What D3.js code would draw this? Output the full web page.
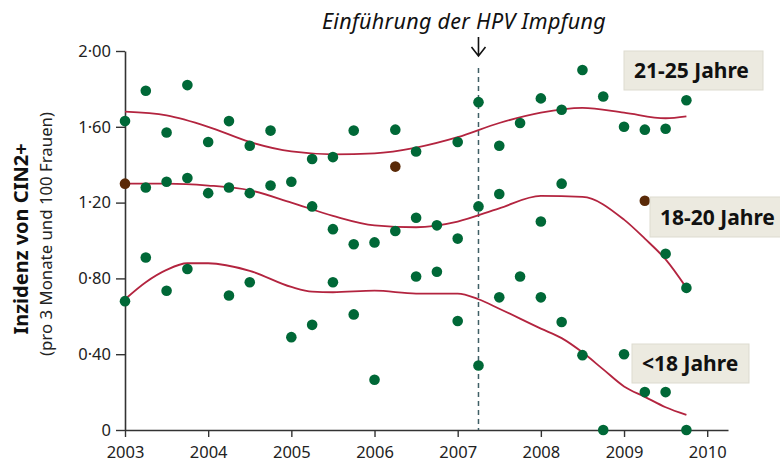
<!DOCTYPE html>
<html>
<head>
<meta charset="utf-8">
<script src="https://cdn.jsdelivr.net/npm/d3@7"></script>
<style>
  body { margin: 0; background: #fff; }
  svg { display: block; }
</style>
</head>
<body>
<script>
// quarters 2003.0 .. 2009.75
const quarters = d3.range(28).map((i) => 2003 + i * 0.25);
const years = [2003, 2004, 2005, 2006, 2007, 2008, 2009, 2010];
const yTicks = [0, 0.4, 0.8, 1.2, 1.6, 2.0];

// observed values per quarter (null = no green point)
const age2125 = [1.63, 1.79, 1.57, 1.82, 1.52, 1.63, 1.5, 1.58, null, 1.43, 1.44, 1.58, null, 1.585,
  1.47, null, 1.52, 1.73, 1.5, 1.62, 1.75, 1.69, 1.9, 1.76, 1.6, 1.585, 1.59, 1.74];
const age1820 = [null, 1.28, 1.31, 1.33, 1.25, 1.28, 1.25, 1.29, 1.31, 1.18, 1.06, 0.98, 0.99, 1.05,
  1.12, 1.08, 1.01, 1.18, 1.245, null, 1.1, 1.3, null, null, null, null, 0.93, 0.75];
const ageU18 = [0.68, 0.91, 0.735, 0.85, null, 0.71, 0.78, null, 0.49, 0.555, 0.78, 0.61, 0.265, null,
  0.81, 0.835, 0.575, 0.34, 0.7, 0.81, 0.7, 0.57, 0.395, 0, 0.4, 0.2, 0.2, 0];

// brown points [date, value]
const brownPoints = [[2003.0, 1.3], [2006.25, 1.39], [2009.25, 1.21]];

// fitted curves [date, value]
const fit2125 = [[2003, 1.68], [2003.5, 1.66], [2004, 1.6], [2004.5, 1.52], [2005, 1.47], [2005.5, 1.455],
  [2006, 1.46], [2006.5, 1.49], [2007, 1.545], [2007.5, 1.62], [2008, 1.675], [2008.5, 1.7],
  [2009, 1.675], [2009.5, 1.645], [2009.75, 1.655]];
const fit1820 = [[2003, 1.3], [2003.5, 1.3], [2004, 1.29], [2004.5, 1.265], [2005, 1.2], [2005.5, 1.13],
  [2006, 1.08], [2006.5, 1.07], [2007, 1.1], [2007.5, 1.17], [2008, 1.235], [2008.5, 1.23],
  [2009, 1.11], [2009.25, 1.01], [2009.5, 0.9], [2009.75, 0.75]];
const fitU18 = [[2003, 0.69], [2003.25, 0.78], [2003.5, 0.845], [2003.75, 0.88], [2004, 0.88],
  [2004.5, 0.84], [2005, 0.755], [2005.25, 0.73], [2005.5, 0.727], [2006, 0.735], [2006.5, 0.72],
  [2007, 0.72], [2007.25, 0.69], [2007.5, 0.64], [2008, 0.535], [2008.25, 0.485], [2008.5, 0.41],
  [2008.75, 0.32], [2009, 0.23], [2009.25, 0.175], [2009.5, 0.12], [2009.75, 0.08]];

const labels = ["21-25 Jahre", "18-20 Jahre", "<18 Jahre"];
const vaccineDate = 2007.25;

const width = 780;
const height = 464;
const font = "'Noto Sans', sans-serif";

const x = d3.scaleLinear().domain([2003, 2010.25]).range([125, 728]);
const y = d3.scaleLinear().domain([0, 2]).range([430, 51]);

const svg = d3.select("body").append("svg")
  .attr("width", width)
  .attr("height", height)
  .attr("viewBox", `0 0 ${width} ${height}`);

// axes
const fmt = (d) => (d === 0 ? "0" : d3.format(".2f")(d).replace(".", "\u00b7"));

const xAxis = svg.append("g")
  .attr("transform", `translate(0 ${y(0)})`)
  .call(d3.axisBottom(x).tickValues(years).tickFormat(d3.format("d")).tickSize(7).tickSizeOuter(0).tickPadding(9));

const yAxis = svg.append("g")
  .attr("transform", `translate(${x(2003)} 0)`)
  .call(d3.axisLeft(y).tickValues(yTicks).tickFormat(fmt).tickSize(9).tickSizeOuter(0).tickPadding(5));

[xAxis, yAxis].forEach((g) => {
  g.select(".domain").attr("stroke", "#333").attr("stroke-width", 1.6);
  g.selectAll(".tick line").attr("stroke", "#333").attr("stroke-width", 1.4);
  g.selectAll(".tick text")
    .attr("font-family", font)
    .attr("font-size", 16.5)
    .attr("fill", "#222");
});

// axis titles
svg.append("text")
  .attr("transform", `translate(28 ${239}) rotate(-90)`)
  .attr("text-anchor", "middle")
  .attr("font-family", font)
  .attr("font-weight", "bold")
  .attr("font-size", 20)
  .attr("fill", "#111")
  .text("Inzidenz von CIN2+");

svg.append("text")
  .attr("transform", `translate(52 ${234}) rotate(-90)`)
  .attr("text-anchor", "middle")
  .attr("font-family", font)
  .attr("font-size", 16.8)
  .attr("fill", "#222")
  .text("(pro 3 Monate und 100 Frauen)");

// vaccine line
svg.append("line")
  .attr("x1", x(vaccineDate)).attr("x2", x(vaccineDate))
  .attr("y1", 68).attr("y2", y(0))
  .attr("stroke", "#3f5f66")
  .attr("stroke-width", 1.5)
  .attr("stroke-dasharray", "5 4");

svg.append("path")
  .attr("d", `M${x(vaccineDate)},37 V56 M${x(vaccineDate) - 7},47 L${x(vaccineDate)},56 L${x(vaccineDate) + 7},47`)
  .attr("fill", "none")
  .attr("stroke", "#111")
  .attr("stroke-width", 1.6);

svg.append("text")
  .attr("x", 464)
  .attr("y", 29)
  .attr("text-anchor", "middle")
  .attr("font-family", font)
  .attr("font-style", "italic")
  .attr("font-size", 21.5)
  .attr("letter-spacing", 0.3)
  .attr("fill", "#111")
  .text("Einführung der HPV Impfung");

// fitted curves
const line = d3.line().x(([d]) => x(d)).y(([, v]) => y(v)).curve(d3.curveMonotoneX);
[fit2125, fit1820, fitU18].forEach((fit) => {
  svg.append("path")
    .attr("d", line(fit))
    .attr("fill", "none")
    .attr("stroke", "#b3243f")
    .attr("stroke-width", 1.8);
});

// points
const pts = [age2125, age1820, ageU18].flatMap((series) =>
  series.map((v, i) => [quarters[i], v]).filter(([, v]) => v !== null));

svg.append("g")
  .selectAll("circle")
  .data(pts)
  .enter()
  .append("circle")
  .attr("cx", ([d]) => x(d))
  .attr("cy", ([, v]) => y(v))
  .attr("r", 5.3)
  .attr("fill", "#006837");

svg.append("g")
  .selectAll("circle")
  .data(brownPoints)
  .enter()
  .append("circle")
  .attr("cx", ([d]) => x(d))
  .attr("cy", ([, v]) => y(v))
  .attr("r", 5.3)
  .attr("fill", "#5a2a08");

// label boxes
const boxes = [
  { x: 624, y: 51, w: 139, h: 39 },
  { x: 650, y: 197, w: 135, h: 40 },
  { x: 632, y: 344, w: 117, h: 39 },
];

labels.forEach((label, i) => {
  const b = boxes[i];
  svg.append("rect")
    .attr("x", b.x).attr("y", b.y)
    .attr("width", b.w).attr("height", b.h)
    .attr("fill", "#eceae0")
    .attr("stroke", "#dddbd0")
    .attr("stroke-width", 1);
  svg.append("text")
    .attr("x", b.x + 10)
    .attr("y", b.y + b.h / 2 + 7.5)
    .attr("font-family", font)
    .attr("font-weight", "bold")
    .attr("font-size", 21)
    .attr("fill", "#111")
    .text(label);
});
</script>
</body>
</html>
